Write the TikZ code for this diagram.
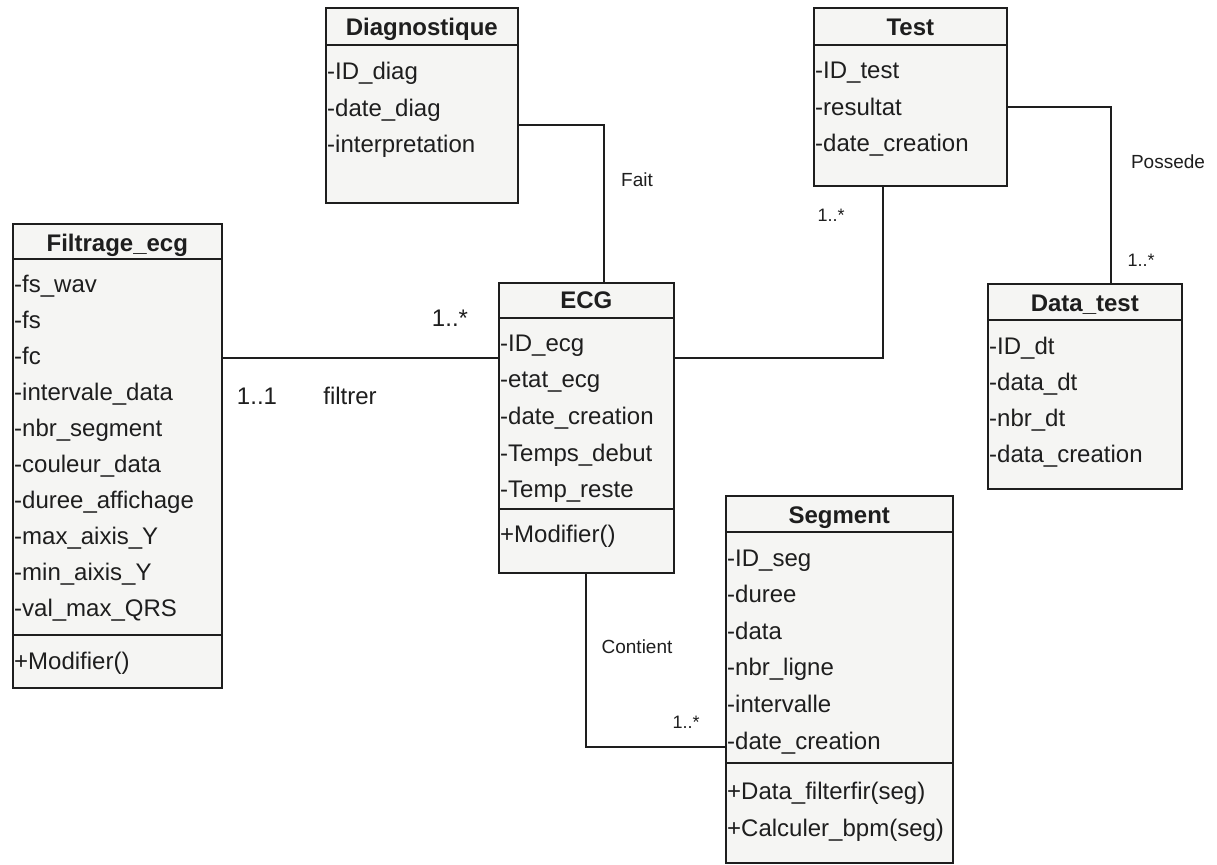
\documentclass[tikz,border=0pt]{standalone}
\usepackage{fontspec}
\setmainfont{Liberation Sans}
\definecolor{boxfill}{HTML}{F5F5F3}
\definecolor{ink}{HTML}{1E1E1E}
\begin{document}
\begin{tikzpicture}[x=1pt,y=-1pt,
  classbox/.style={draw=ink, line width=1.6pt, fill=boxfill, inner sep=0pt, anchor=north west},
  sepline/.style={draw=ink, line width=1.6pt},
  ctitle/.style={font=\fontsize{24}{29}\selectfont\bfseries, text=ink, anchor=base, inner sep=0pt},
  attr/.style={font=\fontsize{24}{29}\selectfont, text=ink, anchor=base west, inner sep=0pt},
  lbl/.style={font=\fontsize{19}{23}\selectfont, text=ink, inner sep=0pt},
  mult/.style={font=\fontsize{18}{22}\selectfont, text=ink, inner sep=0pt},
  bigmult/.style={font=\fontsize{24}{29}\selectfont, text=ink, inner sep=0pt},
  rel/.style={draw=ink, line width=1.3pt}]
\useasboundingbox[fill=white] (0,0) rectangle (1217,864);

% ---------- Diagnostique ----------
\node[classbox, minimum width=192pt, minimum height=195pt] (diag) at (325,7) {};
\node[ctitle] (diag-t) at (diag.north |- 0,36) {Diagnostique};
\draw[sepline] (diag.west |- 0,45) -- (diag.east |- 0,45);
\foreach \t [count=\i] in {-ID\_diag,-date\_diag,-interpretation}
  \node[attr] (diag-a\i) at (327,{80+36.3*(\i-1)}) {\t};

% ---------- Test ----------
\node[classbox, minimum width=193pt, minimum height=178pt] (test) at (813,7) {};
\node[ctitle] (test-t) at (test.north |- 0,36) {Test};
\draw[sepline] (test.west |- 0,45) -- (test.east |- 0,45);
\foreach \t [count=\i] in {-ID\_test,-resultat,-date\_creation}
  \node[attr] (test-a\i) at (815,{79+36.3*(\i-1)}) {\t};

% ---------- Filtrage_ecg ----------
\node[classbox, minimum width=209pt, minimum height=464pt] (filt) at (12,223) {};
\node[ctitle] (filt-t) at (filt.north |- 0,251) {Filtrage\_ecg};
\draw[sepline] (filt.west |- 0,259) -- (filt.east |- 0,259);
\draw[sepline] (filt.west |- 0,635) -- (filt.east |- 0,635);
\foreach \t [count=\i] in {-fs\_wav,-fs,-fc,-intervale\_data,-nbr\_segment,-couleur\_data,
    -duree\_affichage,-max\_aixis\_Y,-min\_aixis\_Y,-val\_max\_QRS}
  \node[attr] (filt-a\i) at (14,{292+36.1*(\i-1)}) {\t};
\node[attr] (filt-m1) at (14,669) {+Modifier()};

% ---------- ECG ----------
\node[classbox, minimum width=175pt, minimum height=290pt] (ecg) at (498,282) {};
\node[ctitle] (ecg-t) at (ecg.north |- 0,308) {ECG};
\draw[sepline] (ecg.west |- 0,318) -- (ecg.east |- 0,318);
\draw[sepline] (ecg.west |- 0,509) -- (ecg.east |- 0,509);
\foreach \t [count=\i] in {-ID\_ecg,-etat\_ecg,-date\_creation,-Temps\_debut,-Temp\_reste}
  \node[attr] (ecg-a\i) at (500,{351+36.7*(\i-1)}) {\t};
\node[attr] (ecg-m1) at (500,542) {+Modifier()};

% ---------- Segment ----------
\node[classbox, minimum width=227pt, minimum height=367pt] (seg) at (725,495) {};
\node[ctitle] (seg-t) at (seg.north |- 0,523) {Segment};
\draw[sepline] (seg.west |- 0,532) -- (seg.east |- 0,532);
\draw[sepline] (seg.west |- 0,763) -- (seg.east |- 0,763);
\foreach \t [count=\i] in {-ID\_seg,-duree,-data,-nbr\_ligne,-intervalle,-date\_creation}
  \node[attr] (seg-a\i) at (727,{566+36.6*(\i-1)}) {\t};
\node[attr] (seg-m1) at (727,799) {+Data\_filterfir(seg)};
\node[attr] (seg-m2) at (727,836) {+Calculer\_bpm(seg)};

% ---------- Data_test ----------
\node[classbox, minimum width=194pt, minimum height=205pt] (dtest) at (987,283) {};
\node[ctitle] (dtest-t) at (dtest.north |- 0,311) {Data\_test};
\draw[sepline] (dtest.west |- 0,320) -- (dtest.east |- 0,320);
\foreach \t [count=\i] in {-ID\_dt,-data\_dt,-nbr\_dt,-data\_creation}
  \node[attr] (dtest-a\i) at (989,{354+36*(\i-1)}) {\t};

% ---------- Associations ----------
\coordinate (kFait) at (604,125);
\coordinate (kTest) at (883,358);
\coordinate (kPoss) at (1111,107);
\coordinate (kCont) at (586,747);

% Diagnostique -- ECG (Fait)
\draw[rel] (diag.east |- kFait) -- (kFait) -- (ecg.north -| kFait);
\node[lbl] (fait) at (637,180) {Fait};

% Test -- ECG
\draw[rel] (test.south -| kTest) -- (kTest) -- (ecg.east |- kTest);
\node[mult] (m-test) at (831,215) {1..*};

% Test -- Data_test (Possede)
\draw[rel] (test.east |- kPoss) -- (kPoss) -- (dtest.north -| kPoss);
\node[lbl] (poss) at (1168,162) {Possede};
\node[mult] (m-dtest) at (1141,260) {1..*};

% Filtrage_ecg -- ECG (filtrer)
\draw[rel] (filt.east |- kTest) -- (ecg.west |- kTest);
\node[bigmult] (m-ecg) at (450,318) {1..*};
\node[bigmult] (m-filt) at (257,396) {1..1};
\node[bigmult] (filtrer) at (350,396) {filtrer};

% ECG -- Segment (Contient)
\draw[rel] (ecg.south -| kCont) -- (kCont) -- (seg.west |- kCont);
\node[lbl] (cont) at (637,647) {Contient};
\node[mult] (m-seg) at (686,722) {1..*};
\end{tikzpicture}
\end{document}
